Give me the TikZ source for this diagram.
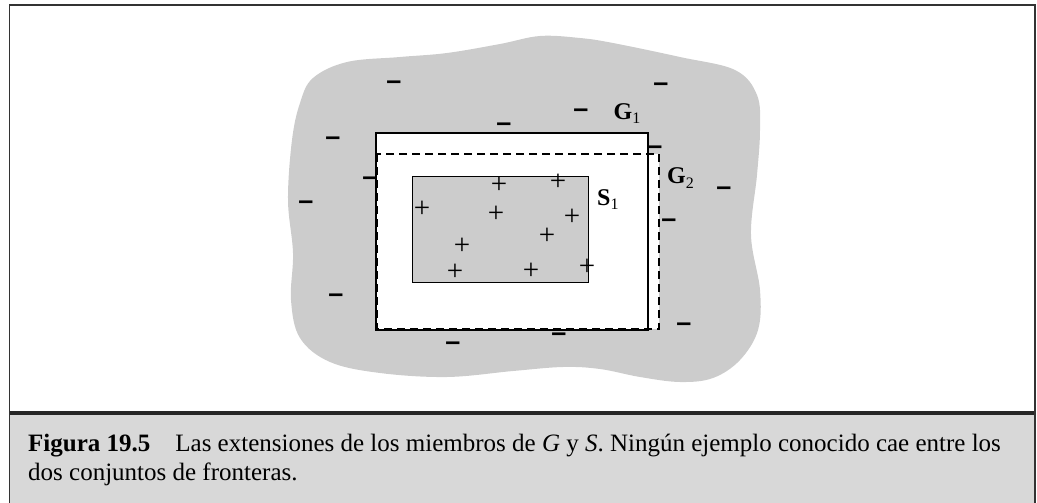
\documentclass[tikz,border=0pt]{standalone}
\usepackage{fontspec}
\setmainfont{Liberation Serif}
\newfontfamily\dashfont{Liberation Sans}
\definecolor{blobgray}{HTML}{CCCCCC}
\definecolor{capgray}{HTML}{D8D8D8}
\definecolor{framegray}{HTML}{333333}
\tikzset{
  negmark/.style={font=\dashfont\bfseries\fontsize{27}{27}\selectfont, inner sep=0pt, yshift=-4.5pt},
  posmark/.style={font=\fontsize{29}{29}\selectfont, inner sep=0pt},
  setlbl/.style={font=\bfseries\fontsize{24}{24}\selectfont, inner sep=0pt, anchor=base west},
}
\newcommand{\subdig}[2]{\raisebox{#1}{\mdseries\fontsize{16}{16}\selectfont #2}}
\begin{document}
\begin{tikzpicture}[x=1pt,y=-1pt]
\useasboundingbox (0,0) rectangle (1037,503);
% frame and caption area
\fill[capgray] (9.5,415) rectangle (1035,503);
\draw[line width=4pt, black!85] (9.5,413) -- (1035,413);
\draw[framegray, line width=1.5pt] (9.5,503) -- (9.5,5) -- (1035,5) -- (1035,503);
% blob
\fill[blobgray] plot[smooth cycle, tension=0.6] coordinates {
 (313,78) (347,62) (400,57) (447,53) (500,44) (540,36) (580,38) (613,43)
 (680,57) (735,70) (757,95) (760,130) (757,175) (751,235) (760,290) (758,330)
 (740,360) (713,378) (680,382) (640,377) (600,369) (563,367) (513,371)
 (447,377) (380,373) (330,362) (300,338) (291,300) (293,253) (288,200)
 (292,140) (300,103)};
% white regions
\fill[white] (376,133) rectangle (648,330);
\fill[white] (377,154) rectangle (659,329);
% S1
\draw[black, line width=0.8pt, fill=blobgray] (412.5,176.5) rectangle (588.5,282) node[pos=0, inner sep=0] (s1) {};
% G1, G2
\draw[black, line width=2.5pt] (376,133) rectangle (648,330) node[pos=0, inner sep=0] (g1box) {};
\draw[black, line width=2.3pt, dash pattern=on 8pt off 5pt] (377,154) rectangle (659,329) node[pos=0, inner sep=0] (g2box) {};
% labels
\node[setlbl] (g1) at (613.5,120) {G\subdig{-3.5pt}{1}};
\node[setlbl] (g2) at (667,183.5) {G\subdig{-5pt}{2}};
\node[setlbl] (s1lbl) at (597,205.5) {S\subdig{-3.5pt}{1}};
% minus marks
\foreach \x/\y [count=\i] in {394/81, 661/83, 581/109, 504/123, 333/137, 655/146,
  370/177, 306/201, 724/187, 669/219, 336/294, 684/323, 559/333, 453/342}
  \node[negmark] (m\i) at (\x,\y) {–};
% plus marks
\foreach \x/\y [count=\i] in {499/185, 558/182, 422/209, 496/214, 572/217,
  462/246, 547/236, 455/272, 531/271, 587/267}
  \node[posmark] (p\i) at (\x,\y) {+};
% caption
\node[anchor=base west, inner sep=0pt, align=left, font=\fontsize{25}{28.5}\selectfont] (cap) at (28,480)
 {\textbf{Figura 19.5}\hspace{25pt}Las extensiones de los miembros de \textit{G} y \textit{S}. Ningún ejemplo conocido cae entre los\\dos conjuntos de fronteras.};
\end{tikzpicture}
\end{document}
